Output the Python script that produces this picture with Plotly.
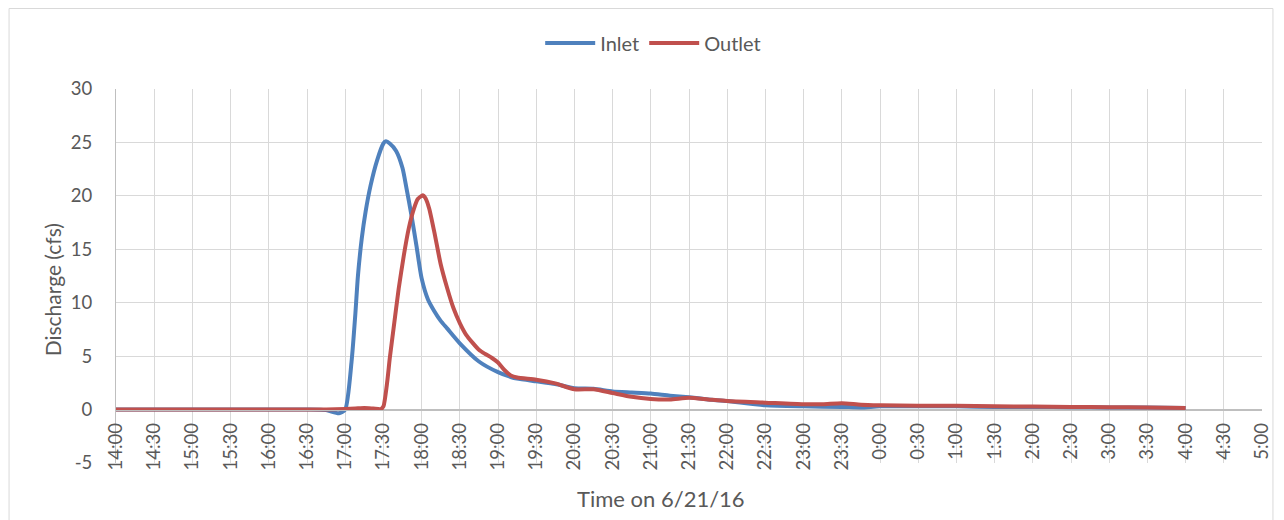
import plotly.graph_objects as go
from datetime import datetime, timedelta

# ---- data (clock times on 6/21/16, past midnight = 6/22) ----
inlet_clock = ["14:00", "15:00", "16:00", "16:30", "16:45", "16:55", "17:00", "17:05", "17:08",
               "17:10", "17:13", "17:16", "17:20", "17:25", "17:30", "17:32", "17:35", "17:40",
               "17:45", "17:48", "17:52", "17:56", "18:00", "18:05", "18:10", "18:15", "18:20",
               "18:30", "18:45", "19:00", "19:10", "19:15", "19:30", "19:45", "20:00", "20:15",
               "20:30", "20:45", "21:00", "21:15", "21:30", "21:45", "22:00", "22:30", "23:00",
               "23:30", "23:45", "0:00", "0:30", "1:00", "1:30", "2:00", "2:30", "3:00", "3:30", "4:00"]
inlet_cfs = [0.0, 0.0, 0.0, 0.0, -0.05, -0.35, 0.0, 4.5, 9.0,
             12.5, 16.0, 18.5, 21.0, 23.3, 24.9, 25.1, 24.9, 24.2,
             22.6, 20.8, 18.2, 15.3, 12.3, 10.3, 9.2, 8.3, 7.6,
             6.2, 4.5, 3.5, 3.05, 2.9, 2.65, 2.4, 2.0, 1.95,
             1.7, 1.6, 1.5, 1.3, 1.15, 0.95, 0.8, 0.4, 0.3,
             0.25, 0.2, 0.3, 0.3, 0.3, 0.25, 0.25, 0.22, 0.2, 0.2, 0.15]

outlet_clock = ["14:00", "15:00", "16:00", "16:30", "16:45", "17:00", "17:08", "17:15", "17:22",
                "17:28", "17:30", "17:33", "17:35", "17:38", "17:42", "17:46", "17:50", "17:54",
                "17:57", "18:01", "18:03", "18:06", "18:10", "18:15", "18:20", "18:25", "18:30",
                "18:35", "18:45", "18:50", "18:55", "19:00", "19:05", "19:10", "19:15", "19:30",
                "19:45", "20:00", "20:15", "20:30", "20:45", "21:00", "21:15", "21:30", "21:45",
                "22:00", "22:30", "23:00", "23:15", "23:30", "23:45", "0:00", "0:30", "1:00",
                "1:30", "2:00", "2:30", "3:00", "3:30", "4:00"]
outlet_cfs = [0.0, 0.0, 0.0, 0.0, 0.0, 0.05, 0.1, 0.15, 0.1,
              0.05, 0.3, 2.6, 4.8, 7.6, 11.3, 14.4, 17.0, 18.8,
              19.7, 20.05, 19.8, 18.8, 16.6, 13.6, 11.4, 9.5, 8.1,
              7.0, 5.6, 5.2, 4.85, 4.4, 3.7, 3.2, 3.0, 2.8,
              2.45, 1.9, 1.9, 1.55, 1.2, 1.0, 0.95, 1.1, 0.95,
              0.8, 0.65, 0.5, 0.5, 0.6, 0.45, 0.4, 0.35, 0.35,
              0.3, 0.28, 0.25, 0.22, 0.2, 0.15]

tick_labels = ["14:00", "14:30", "15:00", "15:30", "16:00", "16:30", "17:00", "17:30", "18:00",
               "18:30", "19:00", "19:30", "20:00", "20:30", "21:00", "21:30", "22:00", "22:30",
               "23:00", "23:30", "0:00", "0:30", "1:00", "1:30", "2:00", "2:30", "3:00", "3:30",
               "4:00", "4:30", "5:00"]
y_ticks = [-5, 0, 5, 10, 15, 20, 25, 30]
y_tick_labels = ["-5", "0", "5", "10", "15", "20", "25", "30"]


def to_dt(clock):
    h, m = map(int, clock.split(":"))
    d = datetime(2016, 6, 21, h, m)
    if h < 12:
        d += timedelta(days=1)
    return d


inlet_t = [to_dt(c) for c in inlet_clock]
outlet_t = [to_dt(c) for c in outlet_clock]
tick_vals = [to_dt(c) for c in tick_labels]

FONT = "Lato, 'Open Sans', sans-serif"
GREY = "#595959"
GRID = "#D9D9D9"

# page body adds an 8px offset; work in screen coordinates and shift
OFF = 8
W, H = 1284 - OFF, 520 - OFF
L, T = 116 - OFF, 89 - OFF
R = W - (1268 - OFF)
B = H - (463 - OFF)
PW, PH = W - L - R, H - T - B


def px(xs):
    return (xs - OFF - L) / PW


def py(ys):
    return (H - B - (ys - OFF)) / PH


fig = go.Figure()
fig.add_trace(go.Scatter(x=inlet_t, y=inlet_cfs, name="Inlet", mode="lines",
                         line=dict(color="#4F81BD", width=4, shape="spline", smoothing=0.6)))
fig.add_trace(go.Scatter(x=outlet_t, y=outlet_cfs, name="Outlet", mode="lines",
                         line=dict(color="#C0504D", width=4, shape="spline", smoothing=0.6)))

fig.update_layout(
    width=W, height=H,
    margin=dict(l=L, r=R, t=T, b=B, pad=0),
    paper_bgcolor="white", plot_bgcolor="white",
    font=dict(family=FONT, color=GREY, size=18),
    showlegend=True,
    legend=dict(orientation="h", x=px(656), xanchor="center", y=py(43), yanchor="middle",
                font=dict(size=20, color=GREY), itemwidth=50, bgcolor="rgba(0,0,0,0)",
                traceorder="normal"),
    xaxis=dict(
        type="date",
        range=[to_dt("14:00"), to_dt("5:00")],
        tickmode="array", tickvals=tick_vals, ticktext=tick_labels,
        tickangle=-90, tickfont=dict(size=18.5, color=GREY),
        showgrid=True, gridcolor=GRID, gridwidth=1,
        anchor="free", position=5 / 35,
        showline=True, linecolor="#BFBFBF", linewidth=1,
        ticks="outside", ticklen=5, tickcolor="rgba(0,0,0,0)",
        zeroline=False,
    ),
    yaxis=dict(
        range=[-5, 30], tickmode="array", tickvals=y_ticks, ticktext=y_tick_labels,
        tickfont=dict(size=18.5, color=GREY),
        showgrid=True, gridcolor=GRID, gridwidth=1,
        zeroline=True, zerolinecolor="#BFBFBF", zerolinewidth=1,
        showline=True, linecolor="#BFBFBF", linewidth=1,
        ticks="outside", ticklen=19, tickcolor="rgba(0,0,0,0)",
    ),
    shapes=[dict(type="rect", xref="paper", yref="paper",
                 x0=px(8.5), x1=px(1279), y0=py(540), y1=py(8.5),
                 line=dict(color=GRID, width=1), fillcolor="rgba(0,0,0,0)", layer="below")],
    annotations=[
        dict(text="Time on 6/21/16", xref="paper", yref="paper", x=px(664), y=py(498),
             xanchor="center", yanchor="middle", showarrow=False,
             font=dict(size=22, color=GREY, family=FONT)),
        dict(text="Discharge (cfs)", xref="paper", yref="paper", x=px(52), y=py(290),
             xanchor="center", yanchor="middle", textangle=-90, showarrow=False,
             font=dict(size=21, color=GREY, family=FONT)),
    ],
)

fig.write_html("out.html")
